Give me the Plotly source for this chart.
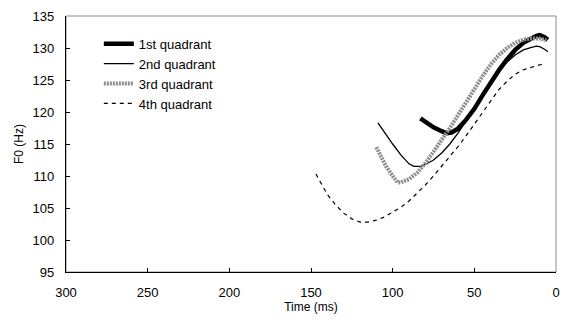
import plotly.graph_objects as go

# ---- data ----
q1_t = [83, 80, 75, 70, 67, 64, 60, 55, 50, 45, 40, 35, 30, 25, 20, 15, 12, 10, 7, 5]
q1_f = [119.0, 118.4, 117.6, 117.0, 116.7, 116.8, 117.4, 118.8, 120.5, 122.6, 124.6, 126.5, 128.2, 129.7, 130.8, 131.6, 131.9, 132.0, 131.7, 131.3]

q2_t = [109, 105, 100, 95, 90, 87, 83, 80, 75, 70, 65, 60, 55, 50, 45, 40, 35, 30, 25, 20, 15, 12, 10, 7, 5]
q2_f = [118.3, 116.8, 115.0, 113.3, 111.9, 111.5, 111.5, 111.8, 112.5, 113.6, 115.0, 116.7, 118.6, 120.6, 122.7, 124.7, 126.4, 127.8, 128.9, 129.7, 130.1, 130.3, 130.2, 129.8, 129.4]

q3_t = [110, 107, 104, 100, 97, 95, 90, 85, 80, 75, 70, 65, 60, 55, 50, 45, 40, 35, 30, 25, 20, 15, 10, 6]
q3_f = [114.5, 113.0, 111.5, 110.0, 109.0, 109.0, 109.5, 110.5, 112.0, 113.8, 115.6, 117.5, 119.5, 121.6, 123.6, 125.6, 127.4, 128.9, 130.0, 130.8, 131.3, 131.5, 131.5, 131.2]

q4_t = [147, 145, 140, 135, 130, 125, 120, 115, 110, 105, 100, 95, 90, 85, 80, 75, 70, 65, 60, 55, 50, 45, 40, 35, 30, 25, 20, 15, 10, 7]
q4_f = [110.3, 109.4, 107.1, 105.5, 104.2, 103.3, 102.8, 102.8, 103.1, 103.6, 104.3, 105.1, 106.1, 107.3, 108.6, 110.0, 111.5, 113.0, 114.6, 116.3, 118.1, 120.0, 121.9, 123.5, 124.8, 125.9, 126.6, 127.0, 127.3, 127.6]

names = ["1st quadrant", "2nd quadrant", "3rd quadrant", "4th quadrant"]
x_ticks = [300, 250, 200, 150, 100, 50, 0]
y_ticks = [95, 100, 105, 110, 115, 120, 125, 130, 135]

FONT = "Liberation Sans, Arial, sans-serif"

fig = go.Figure()
fig.add_trace(go.Scatter(x=q1_t, y=q1_f, mode="lines", name=names[0],
                         line=dict(color="black", width=4.5)))
fig.add_trace(go.Scatter(x=q2_t, y=q2_f, mode="lines", name=names[1],
                         line=dict(color="black", width=1.3)))
fig.add_trace(go.Scatter(x=q3_t, y=q3_f, mode="lines", name=names[2],
                         line=dict(color="#8c8c8c", width=4, dash="2px,1px")))
fig.add_trace(go.Scatter(x=q4_t, y=q4_f, mode="lines", name=names[3],
                         line=dict(color="black", width=1.2, dash="4px,4px")))

# gray plot-area frame
fig.add_shape(type="rect", xref="x domain", yref="y domain", x0=0, x1=1, y0=0, y1=1,
              line=dict(color="#8a8a8a", width=1), layer="below")

fig.update_layout(
    width=569, height=323,
    margin=dict(l=66, r=9, t=15, b=51),
    paper_bgcolor="white", plot_bgcolor="white",
    font=dict(family=FONT, size=13, color="black"),
    showlegend=True,
    legend=dict(x=0.067, y=0.95, xanchor="left", yanchor="top",
                bgcolor="rgba(0,0,0,0)", font=dict(size=13),
                tracegroupgap=0, itemwidth=30),
)
fig.update_xaxes(range=[300, 0], tickvals=x_ticks, ticks="inside", ticklen=4,
                 tickcolor="black", showline=True, linecolor="black", linewidth=1.3,
                 showgrid=False, zeroline=False, ticklabelstandoff=8,
                 title=dict(text="Time (ms)", font=dict(size=12), standoff=1))
fig.update_yaxes(range=[95, 135], tickvals=y_ticks, ticks="inside", ticklen=4,
                 tickcolor="black", showline=True, linecolor="black", linewidth=1.3,
                 showgrid=False, zeroline=False, ticklabelstandoff=8,
                 title=dict(text="F0 (Hz)", font=dict(size=12), standoff=6))

fig.write_html("out.html")
